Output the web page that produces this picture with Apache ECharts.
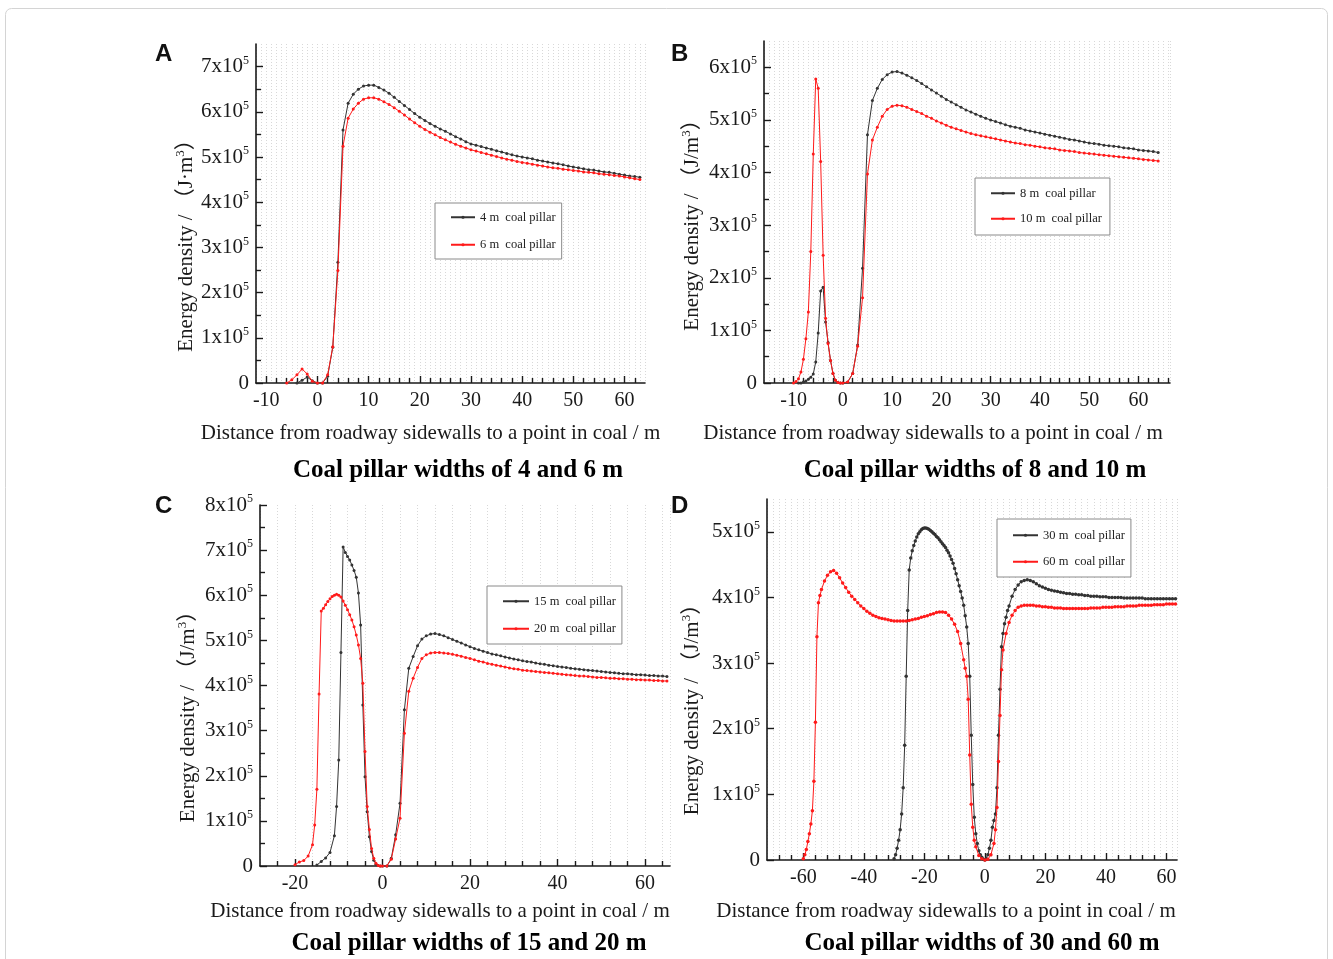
<!DOCTYPE html>
<html>
<head>
<meta charset="utf-8">
<title>Energy density around coal pillars</title>
<script src="https://cdn.jsdelivr.net/npm/echarts@6/dist/echarts.min.js"></script>
<style>
html, body { margin: 0; padding: 0; background: #fff; }
#mychart { width: 1333px; height: 959px; }
</style>
</head>
<body>
<div id="mychart"></div>
<script>
// energy density in 10^5 J/m3, against distance from the roadway sidewall in m
var pillar4 = [[-4,0],[-3,0.06],[-2,0.13],[-1,0.05],[0,0],[1,0],[2,0.15],[3,0.79],[4,2.67],[5,5.6],
	[6,6.19],[7,6.39],[8,6.5],[9,6.57],[10,6.59],[11,6.59],[12,6.54],[13,6.48],[14,6.41],[15,6.32],
	[16,6.23],[17,6.14],[18,6.05],[19,5.96],[20,5.88],[21,5.81],[22,5.74],[23,5.68],[24,5.62],[25,5.57],
	[26,5.51],[27,5.45],[28,5.4],[29,5.34],[30,5.29],[31,5.26],[32,5.23],[33,5.2],[34,5.17],[35,5.14],
	[36,5.11],[37,5.08],[38,5.05],[39,5.02],[40,5.0],[41,4.98],[42,4.96],[43,4.93],[44,4.91],[45,4.89],
	[46,4.87],[47,4.85],[48,4.83],[49,4.8],[50,4.78],[51,4.76],[52,4.74],[53,4.72],[54,4.71],[55,4.69],
	[56,4.67],[57,4.66],[58,4.64],[59,4.62],[60,4.6],[61,4.58],[62,4.57],[63,4.55]];
var pillar6 = [[-6,0],[-5,0.07],[-4,0.18],[-3,0.31],[-2,0.2],[-1,0.04],[0,0],[1,0],[2,0.18],[3,0.8],
	[4,2.49],[5,5.24],[6,5.86],[7,6.06],[8,6.19],[9,6.28],[10,6.31],[11,6.31],[12,6.28],[13,6.22],
	[14,6.16],[15,6.09],[16,6.01],[17,5.93],[18,5.84],[19,5.76],[20,5.68],[21,5.61],[22,5.55],[23,5.49],
	[24,5.43],[25,5.38],[26,5.33],[27,5.28],[28,5.24],[29,5.2],[30,5.16],[31,5.13],[32,5.1],[33,5.07],
	[34,5.04],[35,5.01],[36,4.98],[37,4.95],[38,4.93],[39,4.9],[40,4.88],[41,4.86],[42,4.84],[43,4.82],
	[44,4.8],[45,4.78],[46,4.76],[47,4.75],[48,4.73],[49,4.72],[50,4.7],[51,4.69],[52,4.67],[53,4.66],
	[54,4.65],[55,4.63],[56,4.62],[57,4.61],[58,4.59],[59,4.58],[60,4.56],[61,4.54],[62,4.52],[63,4.5]];

var pillar8 = [[-9,0],[-8.5,0],[-8,0.02],[-7.5,0.04],[-7,0.07],[-6.5,0.11],[-6,0.17],[-5.5,0.4],[-5,0.95],[-4.5,1.75],
	[-4,1.82],[-3.5,1.16],[-3,0.77],[-2.5,0.43],[-2,0.18],[-1.5,0.05],[-1,0.01],[-0.5,0],[0,0],[1,0.02],
	[2,0.18],[3,0.72],[4,2.18],[5,4.72],[6,5.37],[7,5.6],[8,5.77],[9,5.86],[10,5.91],[11,5.92],
	[12,5.89],[13,5.85],[14,5.8],[15,5.75],[16,5.69],[17,5.63],[18,5.57],[19,5.51],[20,5.45],[21,5.39],
	[22,5.34],[23,5.29],[24,5.24],[25,5.19],[26,5.15],[27,5.11],[28,5.07],[29,5.03],[30,5.0],[31,4.97],
	[32,4.94],[33,4.91],[34,4.88],[35,4.86],[36,4.84],[37,4.81],[38,4.79],[39,4.77],[40,4.75],[41,4.73],
	[42,4.71],[43,4.69],[44,4.67],[45,4.65],[46,4.63],[47,4.62],[48,4.6],[49,4.58],[50,4.56],[51,4.55],
	[52,4.54],[53,4.52],[54,4.51],[55,4.5],[56,4.49],[57,4.47],[58,4.46],[59,4.45],[60,4.43],[61,4.42],
	[62,4.41],[63,4.4],[64,4.38]];
var pillar10 = [[-10,0],[-9.5,0.03],[-9,0.08],[-8.5,0.21],[-8,0.45],[-7.5,0.84],[-7,1.35],[-6.5,2.5],[-6,4.35],[-5.5,5.78],
	[-5,5.6],[-4.5,4.21],[-4,2.43],[-3.5,1.23],[-3,0.75],[-2.5,0.43],[-2,0.18],[-1.5,0.05],[-1,0.01],[-0.5,0],
	[0,0],[1,0.02],[2,0.18],[3,0.7],[4,1.62],[5,3.97],[6,4.62],[7,4.86],[8,5.07],[9,5.2],
	[10,5.26],[11,5.28],[12,5.27],[13,5.24],[14,5.2],[15,5.16],[16,5.12],[17,5.07],[18,5.03],[19,4.98],
	[20,4.94],[21,4.9],[22,4.86],[23,4.83],[24,4.8],[25,4.77],[26,4.74],[27,4.72],[28,4.7],[29,4.68],
	[30,4.66],[31,4.64],[32,4.62],[33,4.6],[34,4.58],[35,4.56],[36,4.55],[37,4.53],[38,4.52],[39,4.5],
	[40,4.49],[41,4.47],[42,4.46],[43,4.45],[44,4.43],[45,4.42],[46,4.41],[47,4.4],[48,4.38],[49,4.37],
	[50,4.36],[51,4.35],[52,4.34],[53,4.33],[54,4.32],[55,4.31],[56,4.3],[57,4.29],[58,4.28],[59,4.27],
	[60,4.26],[61,4.25],[62,4.24],[63,4.23],[64,4.22]];

var pillar15 = [[-15,0.02],[-14,0.1],[-13,0.18],[-12,0.3],[-11,0.67],[-10.5,1.32],[-10,2.35],[-9.5,4.73],[-9,7.07],[-8.5,6.95],
	[-8,6.86],[-7.5,6.78],[-7,6.67],[-6.5,6.55],[-6,6.4],[-5.5,6.05],[-5,5.34],[-4.5,3.57],[-4,1.98],[-3.5,1.2],
	[-3,0.65],[-2.5,0.32],[-2,0.13],[-1.5,0.04],[-1,0.01],[-0.5,0],[0,0],[1,0],[2,0.17],[3,0.69],
	[4,1.39],[5,3.46],[6,4.38],[7,4.64],[8,4.88],[9,5.03],[10,5.1],[11,5.14],[12,5.15],[13,5.13],
	[14,5.1],[15,5.06],[16,5.02],[17,4.98],[18,4.94],[19,4.9],[20,4.86],[21,4.82],[22,4.79],[23,4.76],
	[24,4.73],[25,4.7],[26,4.68],[27,4.66],[28,4.63],[29,4.61],[30,4.59],[31,4.57],[32,4.55],[33,4.53],
	[34,4.52],[35,4.5],[36,4.48],[37,4.47],[38,4.45],[39,4.44],[40,4.42],[41,4.41],[42,4.4],[43,4.38],
	[44,4.37],[45,4.36],[46,4.35],[47,4.34],[48,4.33],[49,4.32],[50,4.31],[51,4.3],[52,4.29],[53,4.28],
	[54,4.27],[55,4.26],[56,4.26],[57,4.25],[58,4.24],[59,4.24],[60,4.23],[61,4.22],[62,4.22],[63,4.21],
	[64,4.21],[65,4.2]];
var pillar20 = [[-20,0.03],[-19,0.09],[-18,0.12],[-17,0.22],[-16,0.47],[-15.5,0.91],[-15,1.7],[-14.5,3.81],[-14,5.65],[-13.5,5.71],
	[-13,5.79],[-12.5,5.86],[-12,5.92],[-11.5,5.97],[-11,6.0],[-10.5,6.02],[-10,6.0],[-9.5,5.96],[-9,5.87],[-8.5,5.78],
	[-8,5.68],[-7.5,5.57],[-7,5.45],[-6.5,5.3],[-6,5.12],[-5.5,4.9],[-5,4.6],[-4.5,4.05],[-4,2.54],[-3.5,1.32],
	[-3,0.81],[-2.5,0.39],[-2,0.17],[-1.5,0.06],[-1,0.01],[-0.5,0],[0,0],[1,0],[2,0.15],[3,0.6],
	[4,1.06],[5,2.94],[6,3.87],[7,4.16],[8,4.4],[9,4.6],[10,4.68],[11,4.72],[12,4.73],[13,4.73],
	[14,4.72],[15,4.71],[16,4.69],[17,4.67],[18,4.65],[19,4.62],[20,4.6],[21,4.57],[22,4.54],[23,4.52],
	[24,4.49],[25,4.47],[26,4.45],[27,4.43],[28,4.41],[29,4.39],[30,4.37],[31,4.36],[32,4.34],[33,4.33],
	[34,4.32],[35,4.31],[36,4.3],[37,4.29],[38,4.28],[39,4.27],[40,4.26],[41,4.25],[42,4.24],[43,4.23],
	[44,4.22],[45,4.21],[46,4.21],[47,4.2],[48,4.19],[49,4.18],[50,4.18],[51,4.17],[52,4.16],[53,4.16],
	[54,4.15],[55,4.15],[56,4.14],[57,4.14],[58,4.13],[59,4.13],[60,4.12],[61,4.12],[62,4.11],[63,4.11],
	[64,4.1],[65,4.1]];

var pillar30 = [[-30,0.02],[-29.5,0.08],[-29,0.18],[-28.5,0.3],[-28,0.46],[-27.5,0.7],[-27,1.1],[-26.5,1.75],[-26,2.8],[-25.5,3.8],
	[-25,4.42],[-24.5,4.6],[-24,4.71],[-23.5,4.79],[-23,4.86],[-22.5,4.92],[-22,4.97],[-21.5,5.0],[-21,5.03],[-20.5,5.05],
	[-20,5.06],[-19.5,5.06],[-19,5.05],[-18.5,5.04],[-18,5.02],[-17.5,5.0],[-17,4.98],[-16.5,4.96],[-16,4.93],[-15.5,4.91],
	[-15,4.88],[-14.5,4.85],[-14,4.82],[-13.5,4.79],[-13,4.76],[-12.5,4.72],[-12,4.68],[-11.5,4.63],[-11,4.58],[-10.5,4.52],
	[-10,4.44],[-9.5,4.36],[-9,4.27],[-8.5,4.18],[-8,4.09],[-7.5,3.99],[-7,3.88],[-6.5,3.72],[-6,3.55],[-5.5,3.3],
	[-5,2.8],[-4.5,1.9],[-4,1.15],[-3.5,0.65],[-3,0.4],[-2.5,0.25],[-2,0.14],[-1.5,0.08],[-1,0.04],[-0.5,0.01],
	[0,0],[0.5,0.02],[1,0.08],[1.5,0.18],[2,0.3],[2.5,0.5],[3,0.6],[3.5,0.7],[4,1.1],[4.5,1.9],
	[5,2.6],[5.5,3.25],[6,3.45],[6.5,3.6],[7,3.7],[7.5,3.8],[8,3.87],[9,4.02],[10,4.12],[11,4.19],
	[12,4.24],[13,4.26],[14,4.27],[15,4.26],[16,4.24],[17,4.21],[18,4.18],[19,4.16],[20,4.14],[21,4.12],
	[22,4.11],[23,4.1],[24,4.09],[25,4.08],[26,4.07],[27,4.06],[28,4.06],[29,4.05],[30,4.05],[31,4.04],
	[32,4.04],[33,4.03],[34,4.03],[35,4.02],[36,4.02],[37,4.02],[38,4.01],[39,4.01],[40,4.01],[41,4.0],
	[42,4.0],[43,4.0],[44,4.0],[45,4.0],[46,3.99],[47,3.99],[48,3.99],[49,3.99],[50,3.99],[51,3.99],
	[52,3.99],[53,3.98],[54,3.98],[55,3.98],[56,3.98],[57,3.98],[58,3.98],[59,3.98],[60,3.98],[61,3.98],
	[62,3.98],[63,3.98]];
var pillar60 = [[-60,0.02],[-59.5,0.08],[-59,0.16],[-58.5,0.28],[-58,0.4],[-57.5,0.55],[-57,0.75],[-56.5,1.2],[-56,2.1],[-55.5,3.4],
	[-55,3.92],[-54.5,4.03],[-54,4.12],[-53,4.25],[-52,4.34],[-51,4.39],[-50,4.41],[-49,4.37],[-48,4.3],[-47,4.22],
	[-46,4.15],[-45,4.08],[-44,4.02],[-43,3.97],[-42,3.92],[-41,3.87],[-40,3.83],[-39,3.79],[-38,3.76],[-37,3.73],
	[-36,3.71],[-35,3.69],[-34,3.68],[-33,3.67],[-32,3.66],[-31,3.65],[-30,3.64],[-29,3.64],[-28,3.64],[-27,3.64],
	[-26,3.64],[-25,3.65],[-24,3.66],[-23,3.67],[-22,3.68],[-21,3.7],[-20,3.71],[-19,3.72],[-18,3.74],[-17,3.75],
	[-16,3.77],[-15,3.78],[-14,3.78],[-13,3.77],[-12,3.73],[-11,3.67],[-10,3.59],[-9,3.48],[-8,3.3],[-7,3.05],
	[-6.5,2.92],[-6,2.8],[-5.5,2.45],[-5,1.6],[-4.5,0.85],[-4,0.5],[-3.5,0.3],[-3,0.2],[-2,0.07],[-1,0.02],
	[0,0],[1,0.01],[2,0.08],[3,0.25],[3.5,0.46],[4,0.8],[4.5,1.5],[5,2.2],[5.5,2.9],[6,3.2],
	[7,3.45],[8,3.62],[9,3.73],[10,3.8],[11,3.85],[12,3.87],[13,3.88],[14,3.88],[15,3.88],[16,3.88],
	[17,3.87],[18,3.87],[19,3.86],[20,3.86],[21,3.85],[22,3.85],[23,3.84],[24,3.84],[25,3.84],[26,3.83],
	[27,3.83],[28,3.83],[29,3.83],[30,3.83],[31,3.83],[32,3.83],[33,3.83],[34,3.83],[35,3.84],[36,3.84],
	[37,3.84],[38,3.84],[39,3.85],[40,3.85],[41,3.85],[42,3.85],[43,3.86],[44,3.86],[45,3.86],[46,3.86],
	[47,3.87],[48,3.87],[49,3.87],[50,3.87],[51,3.88],[52,3.88],[53,3.88],[54,3.88],[55,3.88],[56,3.89],
	[57,3.89],[58,3.89],[59,3.89],[60,3.9],[61,3.9],[62,3.9],[63,3.9]];

// tick values
var xMajorAB = [-10, 0, 10, 20, 30, 40, 50, 60];
var xMinorA = [-8, -6, -4, -2, 2, 4, 6, 8, 12, 14, 16, 18, 22, 24, 26, 28, 32, 34, 36, 38, 42, 44, 46, 48, 52, 54, 56, 58, 62];
var xMinorB = [-14, -12, -8, -6, -4, -2, 2, 4, 6, 8, 12, 14, 16, 18, 22, 24, 26, 28, 32, 34, 36, 38, 42, 44, 46, 48, 52, 54, 56, 58, 62, 64, 66];
var xMajorC = [-20, 0, 20, 40, 60];
var xMinorC = [-24, -16, -12, -8, -4, 4, 8, 12, 16, 24, 28, 32, 36, 44, 48, 52, 56, 64];
var xMajorD = [-60, -40, -20, 0, 20, 40, 60];
var xMinorD = [-68, -64, -56, -52, -48, -44, -36, -32, -28, -24, -16, -12, -8, -4, 4, 8, 12, 16, 24, 28, 32, 36, 44, 48, 52, 56];
var yMajorA = [0, 1, 2, 3, 4, 5, 6, 7];
var yMinorA = [0.5, 1.5, 2.5, 3.5, 4.5, 5.5, 6.5];
var yMajorB = [0, 1, 2, 3, 4, 5, 6];
var yMinorB = [0.5, 1.5, 2.5, 3.5, 4.5, 5.5];
var yMajorC = [0, 1, 2, 3, 4, 5, 6, 7, 8];
var yMinorC = [0.5, 1.5, 2.5, 3.5, 4.5, 5.5, 6.5, 7.5];
var yMajorD = [0, 1, 2, 3, 4, 5];

var SERIF = '"Liberation Serif", "Times New Roman", "Noto Sans CJK SC", serif';
var SANS = '"Liberation Sans", Arial, sans-serif';
var INK = '#1a1a1a';

var panels = [
	{ letter : 'A', title : 'Coal pillar widths of 4 and 6 m', unit : '（J·m{sup|3}）',
	  names : ['4 m  coal pillar', '6 m  coal pillar'], data : [pillar4, pillar6], symbolSize : 3,
	  left : 256, top : 44, width : 389, height : 339, xMin : -12, xMax : 64, yMax : 7.5, gridStep : 1,
	  xMajor : xMajorAB, xMinor : xMinorA, yMajor : yMajorA, yMinor : yMinorA,
	  xNameGap : 40, xNameShift : 20, yNameGap : 58, yNameShift : 27,
	  legend : { left : 435, top : 203, pad : [8, 6, 8, 15], itemWidth : 24, gap : 15 },
	  letterPos : [155, 54], titlePos : [458, 471] },
	{ letter : 'B', title : 'Coal pillar widths of 8 and 10 m', unit : '（J/m{sup|3}）',
	  names : ['8 m  coal pillar', '10 m  coal pillar'], data : [pillar8, pillar10], symbolSize : 3,
	  left : 764, top : 41, width : 406, height : 342, xMin : -16, xMax : 66.4, yMax : 6.5, gridStep : 1,
	  xMajor : xMajorAB, xMinor : xMinorB, yMajor : yMajorB, yMinor : yMinorB,
	  xNameGap : 40, xNameShift : 34, yNameGap : 60, yNameShift : 8,
	  legend : { left : 975, top : 178, pad : [9, 8, 10, 15], itemWidth : 24, gap : 13 },
	  letterPos : [671, 54], titlePos : [975, 471] },
	{ letter : 'C', title : 'Coal pillar widths of 15 and 20 m', unit : '（J/m{sup|3}）',
	  names : ['15 m  coal pillar', '20 m  coal pillar'], data : [pillar15, pillar20], symbolSize : 3,
	  left : 260, top : 505, width : 410, height : 361, xMin : -28, xMax : 65.7, yMax : 8, gridStep : 4,
	  xMajor : xMajorC, xMinor : xMinorC, yMajor : yMajorC, yMinor : yMinorC,
	  xNameGap : 35, xNameShift : 25, yNameGap : 60, yNameShift : 26,
	  legend : { left : 487, top : 586, pad : [9, 6, 9, 15], itemWidth : 26, gap : 15 },
	  letterPos : [155, 506], titlePos : [469, 944] },
	{ letter : 'D', title : 'Coal pillar widths of 30 and 60 m', unit : '（J/m{sup|3}）',
	  names : ['30 m  coal pillar', '60 m  coal pillar'], data : [pillar30, pillar60], symbolSize : 3.5,
	  left : 767, top : 499, width : 410, height : 361, xMin : -72, xMax : 63.5, yMax : 5.5, gridStep : 2,
	  xMajor : xMajorD, xMinor : xMinorD, yMajor : yMajorD, yMinor : [],
	  xNameGap : 41, xNameShift : 26, yNameGap : 63, yNameShift : 25,
	  legend : { left : 997, top : 519, pad : [10, 6, 9, 15], itemWidth : 25, gap : 14 },
	  letterPos : [671, 506], titlePos : [982, 944] }
];
var seriesColors = ['#333333', '#ff1a1a'];

var energyChart = {
	initial : function initial() {
		var myChart = echarts.init(document.getElementById('mychart'));
		myChart.setOption(this.buildOption());
	},

	buildOption : function buildOption() {
		var option = {
			animation : false,
			backgroundColor : '#ffffff',
			grid : [], xAxis : [], yAxis : [], series : [], legend : [], graphic : []
		};
		// thin frame round the whole figure
		option.graphic.push({
			type : 'rect', silent : true,
			shape : { x : 5.5, y : 8.5, width : 1322, height : 970, r : 6 },
			style : { fill : 'none', stroke : '#d4d4d4', lineWidth : 1 }
		});
		for (var i = 0; i < panels.length; i++) {
			this.addPanel(option, i, panels[i]);
		}
		return option;
	},

	yFormatter : function (v) {
		return v === 0 ? '0' : v + 'x10{sup|5}';
	},

	addPanel : function addPanel(option, i, p) {
		var axisLine = { show : true, onZero : false, lineStyle : { color : INK, width : 1.6 } };
		var noLine = { show : false, onZero : false };
		var tickLine = { color : INK, width : 1.4 };

		option.grid.push({ left : p.left, top : p.top, width : p.width, height : p.height, outerBoundsMode : 'none' });

		// main x axis: line, labels, major ticks, name
		option.xAxis.push({
			gridIndex : i, type : 'value', min : p.xMin, max : p.xMax, position : 'bottom',
			name : 'Distance from roadway sidewalls to a point in coal / m',
			nameLocation : 'middle', nameGap : p.xNameGap, nameMoveOverlap : false,
			nameTextStyle : { fontFamily : SERIF, fontSize : 21, color : INK, padding : [0, p.xNameShift * 2, 0, 0] },
			axisLine : axisLine,
			axisTick : { show : true, inside : true, length : 7, customValues : p.xMajor, lineStyle : tickLine },
			axisLabel : { show : true, customValues : p.xMajor, margin : 8, fontFamily : SERIF, fontSize : 20, color : INK },
			splitLine : { show : false }
		});
		// minor ticks
		option.xAxis.push({
			gridIndex : i, type : 'value', min : p.xMin, max : p.xMax, position : 'bottom',
			axisLine : noLine,
			axisTick : { show : true, inside : true, length : 5, customValues : p.xMinor, lineStyle : tickLine },
			axisLabel : { show : false },
			splitLine : { show : false }
		});
		// dotted vertical grid
		option.xAxis.push({
			gridIndex : i, type : 'value', min : p.xMin, max : p.xMax, interval : p.gridStep, position : 'bottom',
			axisLine : noLine, axisTick : { show : false }, axisLabel : { show : false },
			splitLine : { show : true, lineStyle : { color : '#d8d8d8', width : 1, type : [1, 2] } }
		});

		option.yAxis.push({
			gridIndex : i, type : 'value', min : 0, max : p.yMax, position : 'left',
			name : 'Energy density / ' + p.unit, nameLocation : 'middle', nameRotate : 90,
			nameGap : p.yNameGap, nameMoveOverlap : false,
			nameTextStyle : {
				fontFamily : SERIF, fontSize : 21, lineHeight : 24, color : INK,
				padding : [0, p.yNameShift * 2, 0, 0],
				rich : { sup : { fontFamily : SERIF, fontSize : 13, lineHeight : 13, verticalAlign : 'top', color : INK } }
			},
			axisLine : axisLine,
			axisTick : { show : true, inside : true, length : 7, customValues : p.yMajor, lineStyle : tickLine },
			axisLabel : {
				show : true, customValues : p.yMajor, margin : 7, formatter : this.yFormatter,
				fontFamily : SERIF, fontSize : 21, lineHeight : 24, color : INK,
				rich : { sup : { fontFamily : SERIF, fontSize : 12, lineHeight : 12, verticalAlign : 'top', color : INK } }
			},
			splitLine : { show : false }
		});
		option.yAxis.push({
			gridIndex : i, type : 'value', min : 0, max : p.yMax, position : 'left',
			axisLine : noLine,
			axisTick : { show : p.yMinor.length > 0, inside : true, length : 5, customValues : p.yMinor.length ? p.yMinor : [0], lineStyle : tickLine },
			axisLabel : { show : false },
			splitLine : { show : false }
		});

		for (var s = 0; s < 2; s++) {
			option.series.push({
				type : 'line', name : p.names[s], data : p.data[s],
				xAxisIndex : i * 3, yAxisIndex : i * 2,
				symbol : 'circle', symbolSize : p.symbolSize, showSymbol : true,
				lineStyle : { color : seriesColors[s], width : 1 },
				itemStyle : { color : seriesColors[s] },
				z : 3 + s
			});
		}

		option.legend.push({
			data : p.names, orient : 'vertical', left : p.legend.left, top : p.legend.top,
			padding : p.legend.pad, itemWidth : p.legend.itemWidth, itemHeight : 4, itemGap : p.legend.gap,
			borderColor : '#8a8a8a', borderWidth : 1, backgroundColor : '#ffffff',
			selectedMode : false,
			textStyle : { fontFamily : SERIF, fontSize : 12.5, color : '#222' }
		});

		option.graphic.push({
			type : 'text', silent : true, x : p.letterPos[0], y : p.letterPos[1],
			style : { text : p.letter, fontFamily : SANS, fontWeight : 'bold', fontSize : 24, fill : '#111', align : 'left', verticalAlign : 'middle' }
		});
		option.graphic.push({
			type : 'text', silent : true, x : p.titlePos[0], y : p.titlePos[1],
			style : { text : p.title, fontFamily : SERIF, fontWeight : 'bold', fontSize : 25, fill : '#000', align : 'center', verticalAlign : 'middle' }
		});
	}
};

energyChart.initial();
</script>
</body>
</html>
